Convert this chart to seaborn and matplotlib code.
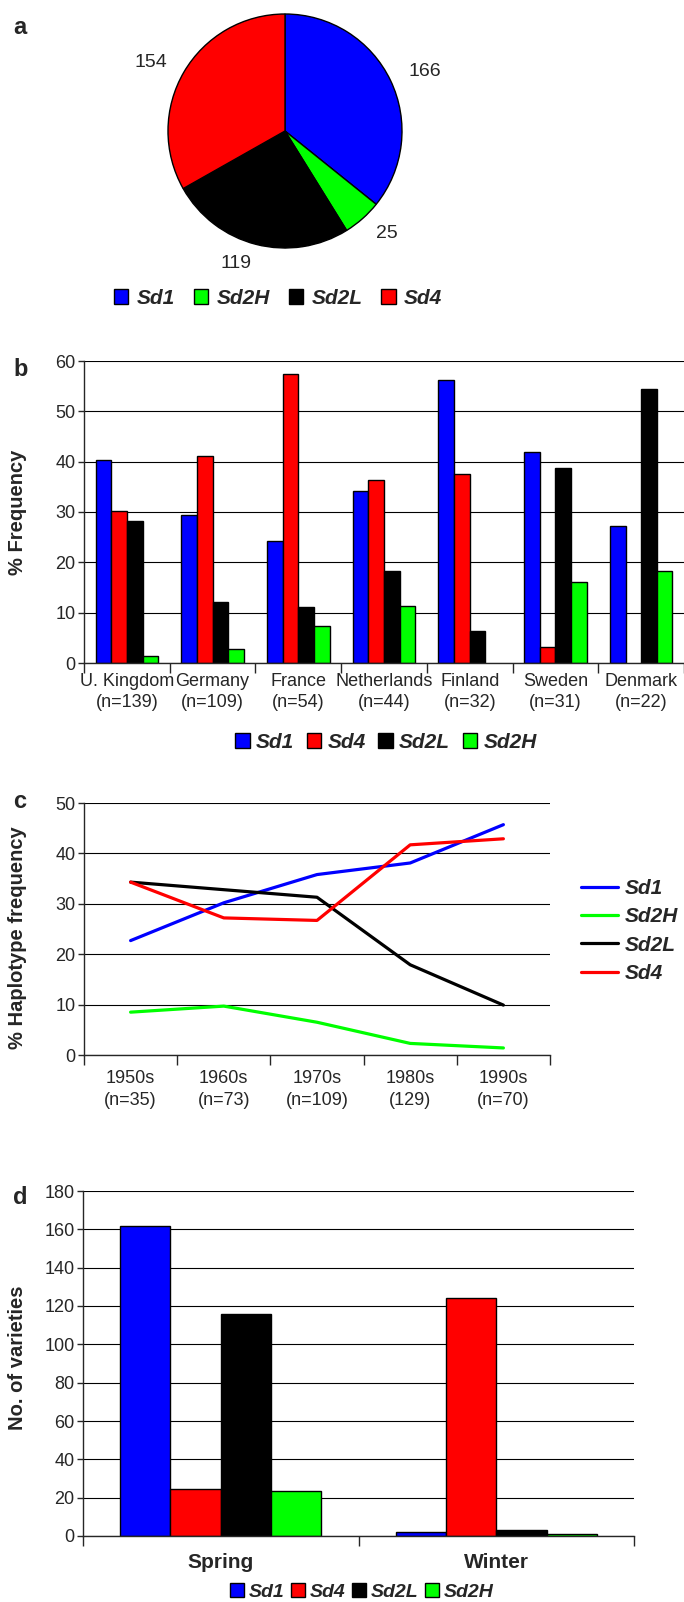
import numpy as np
import pandas as pd
import matplotlib
matplotlib.use('Agg')
import matplotlib.pyplot as plt
import seaborn as sns
from matplotlib.patches import Patch
from matplotlib.lines import Line2D

# ── data
alleles_pie = ['Sd1', 'Sd2H', 'Sd2L', 'Sd4']
pie_counts = [166, 25, 119, 154]

countries = ['U. Kingdom', 'Germany', 'France', 'Netherlands', 'Finland', 'Sweden', 'Denmark']
country_n = [139, 109, 54, 44, 32, 31, 22]
b_sd1 = [40.3, 29.4, 24.2, 34.1, 56.3, 41.9, 27.3]
b_sd4 = [30.2, 41.2, 57.4, 36.4, 37.5, 3.2, None]
b_sd2l = [28.2, 12.2, 11.1, 18.2, 6.3, 38.7, 54.5]
b_sd2h = [1.4, 2.8, 7.4, 11.4, None, 16.1, 18.2]

decades = ['1950s', '1960s', '1970s', '1980s', '1990s']
decade_n = ['(n=35)', '(n=73)', '(n=109)', '(129)', '(n=70)']
c_sd1 = [22.7, 30.2, 35.8, 38.1, 45.7]
c_sd2h = [8.5, 9.7, 6.5, 2.3, 1.4]
c_sd2l = [34.3, 32.8, 31.3, 17.9, 9.9]
c_sd4 = [34.3, 27.2, 26.7, 41.7, 42.9]

seasons = ['Spring', 'Winter']
d_sd1 = [161.5, 2.3]
d_sd4 = [24.5, 124.0]
d_sd2l = [116.0, 3.1]
d_sd2h = [23.3, 0.9]

colors = {'Sd1': '#0000FF', 'Sd2H': '#00FF00', 'Sd2L': '#000000', 'Sd4': '#FF0000'}
bar_order = ['Sd1', 'Sd4', 'Sd2L', 'Sd2H']

sns.set_style('ticks')
plt.rcParams['font.family'] = ['Liberation Sans', 'DejaVu Sans']
plt.rcParams['axes.linewidth'] = 1.0

W, H = 684, 1602
fig = plt.figure(figsize=(W / 100, H / 100), dpi=100)
legend_font = dict(weight='bold', style='italic', size=15)


def rect(l, t, r, b):
    return [l / W, 1 - b / H, (r - l) / W, (b - t) / H]


def style_cat_axis(ax, n, ymax, ystep, pad):
    ax.set_xlim(-0.5, n - 0.5)
    ax.set_ylim(0, ymax)
    ax.set_yticks(np.arange(0, ymax + 0.1, ystep))
    ax.yaxis.grid(True, color='black', linewidth=0.8)
    ax.xaxis.grid(False)
    ax.set_axisbelow(True)
    for s in ['top', 'right']:
        ax.spines[s].set_visible(False)
    ax.set_xticks(np.arange(-0.5, n), minor=True)
    ax.tick_params(axis='x', which='major', length=0, pad=pad, labelsize=13)
    ax.tick_params(axis='x', which='minor', length=7, width=1, direction='out')
    ax.tick_params(axis='y', length=4, width=1, labelsize=13, pad=2)
    ax.set_xlabel('')


# ── a: pie
ax_a = fig.add_axes(rect(168, 14, 402, 248))
wedges, texts = ax_a.pie(pie_counts, colors=[colors[a] for a in alleles_pie],
                         labels=[str(v) for v in pie_counts], labeldistance=1.17,
                         startangle=90, counterclock=False,
                         wedgeprops=dict(edgecolor='black', linewidth=1),
                         textprops=dict(fontsize=14))
for w in wedges:
    w.set_clip_on(False)
ax_a.set_xlim(-1, 1)
ax_a.set_ylim(-1, 1)
ax_a.set_aspect('equal')
fig.legend(handles=[Patch(facecolor=colors[a], edgecolor='black', label=a) for a in alleles_pie],
           loc='center', bbox_to_anchor=(278 / W, 1 - 298 / H), ncol=4, frameon=False,
           prop=legend_font,
           handlelength=0.7, handleheight=0.7, handletextpad=0.4, columnspacing=0.9)
fig.text(20 / W, 1 - 27 / H, 'a', fontsize=17, fontweight='bold', ha='center', va='center')

# ── b: country bars
ax_b = fig.add_axes(rect(84, 361, 684, 663))
b_labels = [f'{c}\n(n={n})' for c, n in zip(countries, country_n)]
df_b = pd.DataFrame({
    'country': b_labels * 4,
    'allele': [a for a in bar_order for _ in countries],
    'value': b_sd1 + b_sd4 + b_sd2l + b_sd2h,
})
df_b['value'] = df_b['value'].astype(float)
sns.barplot(data=df_b, x='country', y='value', hue='allele', hue_order=bar_order,
            palette=colors, width=0.73, edgecolor='black', linewidth=1,
            errorbar=None, legend=False, saturation=1, ax=ax_b)
style_cat_axis(ax_b, len(countries), 60, 10, 7)
for t in ax_b.get_xticklabels():
    t.set_linespacing(1.3)
ax_b.set_ylabel('% Frequency', fontsize=14.5, fontweight='bold')
ax_b.yaxis.set_label_coords(27 / W, 1 - 512 / H, transform=fig.transFigure)
fig.legend(handles=[Patch(facecolor=colors[a], edgecolor='black', label=a) for a in bar_order],
           loc='center', bbox_to_anchor=(386 / W, 1 - 742 / H), ncol=4, frameon=False,
           prop=legend_font,
           handlelength=0.7, handleheight=0.7, handletextpad=0.3, columnspacing=0.6)
fig.text(21 / W, 1 - 370 / H, 'b', fontsize=17, fontweight='bold', ha='center', va='center')

# ── c: lines over decades
ax_c = fig.add_axes(rect(84, 803, 550, 1055))
c_labels = [f'{d}\n{n}' for d, n in zip(decades, decade_n)]
line_order = ['Sd1', 'Sd2H', 'Sd2L', 'Sd4']
df_c = pd.DataFrame({
    'decade': c_labels * 4,
    'allele': [a for a in line_order for _ in decades],
    'value': c_sd1 + c_sd2h + c_sd2l + c_sd4,
})
sns.lineplot(data=df_c, x='decade', y='value', hue='allele', hue_order=line_order,
             palette=colors, linewidth=2.3, legend=False, sort=False, ax=ax_c)
style_cat_axis(ax_c, len(decades), 50, 10, 11)
for t in ax_c.get_xticklabels():
    t.set_linespacing(1.4)
ax_c.set_ylabel('% Haplotype frequency', fontsize=14.5, fontweight='bold')
ax_c.yaxis.set_label_coords(27 / W, 1 - 938 / H, transform=fig.transFigure)
fig.legend(handles=[Line2D([], [], color=colors[a], linewidth=2.3, label=a) for a in line_order],
           loc='center left', bbox_to_anchor=(562 / W, 1 - 931 / H), frameon=False,
           prop=legend_font,
           handlelength=1.8, handletextpad=0.3, labelspacing=0.45)
fig.text(20 / W, 1 - 802 / H, 'c', fontsize=17, fontweight='bold', ha='center', va='center')

# ── d: seasons
ax_d = fig.add_axes(rect(83, 1191, 634, 1536))
df_d = pd.DataFrame({
    'season': seasons * 4,
    'allele': [a for a in bar_order for _ in seasons],
    'value': d_sd1 + d_sd4 + d_sd2l + d_sd2h,
})
sns.barplot(data=df_d, x='season', y='value', hue='allele', hue_order=bar_order,
            palette=colors, width=0.73, edgecolor='black', linewidth=1,
            errorbar=None, legend=False, saturation=1, ax=ax_d)
style_cat_axis(ax_d, len(seasons), 180, 20, 12)
for t in ax_d.get_xticklabels():
    t.set_fontweight('bold')
    t.set_fontsize(15)
ax_d.set_ylabel('No. of varieties', fontsize=14.5, fontweight='bold')
ax_d.yaxis.set_label_coords(27 / W, 1 - 1358 / H, transform=fig.transFigure)
fig.legend(handles=[Patch(facecolor=colors[a], edgecolor='black', label=a) for a in bar_order],
           loc='center', bbox_to_anchor=(362 / W, 1 - 1592 / H), ncol=4, frameon=False,
           prop=dict(weight='bold', style='italic', size=14),
           handlelength=0.7, handleheight=0.7, handletextpad=0.25, columnspacing=0.35)
fig.text(20 / W, 1 - 1198 / H, 'd', fontsize=17, fontweight='bold', ha='center', va='center')

fig.savefig('out.png', dpi=100)
